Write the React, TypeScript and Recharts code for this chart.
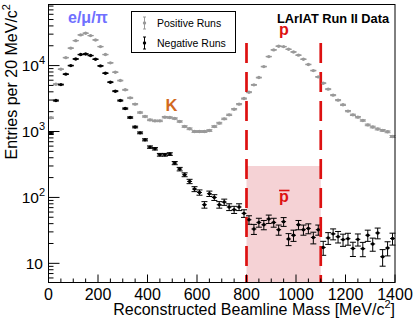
import React from 'react';
import { ComposedChart, Scatter, XAxis, YAxis, ErrorBar, ReferenceArea, ReferenceLine } from 'recharts';

const FONT = '"Liberation Sans", Arial, Helvetica, sans-serif';
const BIN_WIDTH = 20;

// Positive runs (grey), entries per 20 MeV bin, bins 0..1400
const positiveRuns = [
  1615, 5220, 8820, 13200, 18400, 23900, 29200, 31000, 28500, 24500,
  19400, 14700, 11000, 7940, 5930, 4290, 3240, 2600, 1940, 1690,
  1500, 1450, 1450, 1650, 1630, 1575, 1420, 1190, 1100, 1000,
  1000, 1000, 1035, 1190, 1340, 1555, 1790, 2180, 2600, 3160,
  3950, 5100, 6580, 9660, 13700, 17300, 19700, 19400, 17700, 16100,
  14400, 12500, 10400, 8400, 6740, 5410, 4390, 3560, 2990, 2540,
  2040, 1790, 1650, 1470, 1260, 1170, 1090, 1040, 990, 840,
];

// Negative runs (black)
const negativeRuns = [
  946, 2950, 5150, 7410, 10000, 12600, 14700, 15000, 14200, 12500,
  9890, 7670, 5600, 4090, 2950, 2230, 1630, 1170, 955, 748,
  580, 547, 444, 444, 455, 332, 269, 221, 175, 134,
  119, 77.5, 114, 100, 77.5, 85, 71.6, 65.2, 71.6, 57.3,
  45.9, 33.2, 41.8, 38.5, 47.1, 41.8, 32.4, 42.9, 23.4, 26.7,
  38.5, 32.4, 33.9, 24.7, 32.4, 17.4, 24.3, 28, 25.4, 22.9,
  23.7, 16.8, 23.1, 16.7, 26.7, 19.7, 28.9, 12.6, 17.1, 23.8,
];

const X_TICKS = [
  0, 50, 100, 150, 200, 250, 300, 350, 400, 450, 500, 550, 600, 650, 700,
  750, 800, 850, 900, 950, 1000, 1050, 1100, 1150, 1200, 1250, 1300, 1350, 1400,
];
const X_LABELED = [0, 200, 400, 600, 800, 1000, 1200, 1400];
const Y_TICKS = [
  6, 7, 8, 9,
  10, 20, 30, 40, 50, 60, 70, 80, 90,
  100, 200, 300, 400, 500, 600, 700, 800, 900,
  1000, 2000, 3000, 4000, 5000, 6000, 7000, 8000, 9000,
  10000, 20000, 30000, 40000, 50000, 60000, 70000, 80000,
];
const Y_LABELED = [10, 100, 1000, 10000];

const X_DOMAIN = [0, 1400];
const Y_DOMAIN = [5.12, 84500];
const PBAR_WINDOW = [800, 1100];
const PBAR_BOX_TOP = 300;
const CUT_LINE_TOP = 22000;

const makeSeries = (vals: number[]) =>
  vals.map((v, i) => ({
    x: BIN_WIDTH * i + BIN_WIDTH / 2,
    y: v,
    ey: Math.sqrt(v),
    ex: BIN_WIDTH / 2,
  }));

const posData = makeSeries(positiveRuns);
const negData = makeSeries(negativeRuns);

const TICK_MARGIN = 4;

const XTick = (props: any) => {
  const { x, y, payload } = props;
  const axisY = y - TICK_MARGIN;
  const v = payload.value;
  const major = X_LABELED.includes(v);
  return (
    <g>
      <line x1={x} x2={x} y1={axisY} y2={axisY - (major ? 8 : 4)} stroke="#000" strokeWidth={1} />
      {major && (
        <text x={x} y={axisY + 17} textAnchor="middle" fontSize={16} fontFamily={FONT} fill="#000">
          {v}
        </text>
      )}
    </g>
  );
};

const YTick = (props: any) => {
  const { x, y, payload } = props;
  const axisX = x + TICK_MARGIN;
  const v = payload.value;
  const major = Y_LABELED.includes(v);
  const exp = Math.round(Math.log10(v));
  return (
    <g>
      <line x1={axisX} x2={axisX + (major ? 11 : 5)} y1={y} y2={y} stroke="#000" strokeWidth={1} />
      {major && v === 10 && (
        <text x={axisX - 5.5} y={y + 5.5} textAnchor="end" fontSize={15.5} fontFamily={FONT} fill="#000">
          10
        </text>
      )}
      {major && v !== 10 && (
        <text x={axisX - 3.5} y={y + 5.5} textAnchor="end" fontSize={15.5} fontFamily={FONT} fill="#000">
          10
          <tspan fontSize={11} dy={-7}>{exp}</tspan>
        </text>
      )}
    </g>
  );
};

const greyDot = (p: any) => <circle cx={p.cx} cy={p.cy} r={1.7} fill="#999999" />;
const blackDot = (p: any) => <circle cx={p.cx} cy={p.cy} r={1.7} fill="#000000" />;

export default function App() {
  return (
    <div style={{ position: 'absolute', left: 0, top: 0, width: 415, height: 318, background: '#fff' }}>
      <ComposedChart
        width={415}
        height={318}
        margin={{ top: 4.5, right: 20, bottom: 0, left: 0 }}
      >
        <XAxis
          type="number"
          dataKey="x"
          domain={X_DOMAIN}
          ticks={X_TICKS}
          interval={0}
          allowDataOverflow
          axisLine={false}
          tickLine={false}
          tickSize={0}
          tickMargin={TICK_MARGIN}
          height={35.5}
          tick={<XTick />}
        />
        <YAxis
          type="number"
          dataKey="y"
          scale="log"
          domain={Y_DOMAIN}
          ticks={Y_TICKS}
          interval={0}
          allowDataOverflow
          axisLine={false}
          tickLine={false}
          tickSize={0}
          tickMargin={TICK_MARGIN}
          width={48.5}
          tick={<YTick />}
        />
        <ReferenceArea
          x1={PBAR_WINDOW[0]}
          x2={PBAR_WINDOW[1]}
          y1={Y_DOMAIN[0]}
          y2={PBAR_BOX_TOP}
          fill="#f5d2d5"
          fillOpacity={1}
          stroke="none"
          ifOverflow="visible"
        />
        <Scatter data={posData} isAnimationActive={false} shape={greyDot}>
          <ErrorBar dataKey="ey" direction="y" width={3} stroke="#999999" strokeWidth={1} isAnimationActive={false} />
          <ErrorBar dataKey="ex" direction="x" width={0} stroke="#999999" strokeWidth={1} isAnimationActive={false} />
        </Scatter>
        <Scatter data={negData} isAnimationActive={false} shape={blackDot}>
          <ErrorBar dataKey="ey" direction="y" width={3} stroke="#000" strokeWidth={1} isAnimationActive={false} />
          <ErrorBar dataKey="ex" direction="x" width={0} stroke="#000" strokeWidth={1} isAnimationActive={false} />
        </Scatter>
        <ReferenceLine
          segment={[{ x: PBAR_WINDOW[0], y: CUT_LINE_TOP }, { x: PBAR_WINDOW[0], y: Y_DOMAIN[0] }]}
          stroke="#dd1111"
          strokeWidth={2.7}
          strokeDasharray="20 9"
          ifOverflow="visible"
        />
        <ReferenceLine
          segment={[{ x: PBAR_WINDOW[1], y: CUT_LINE_TOP }, { x: PBAR_WINDOW[1], y: Y_DOMAIN[0] }]}
          stroke="#dd1111"
          strokeWidth={2.7}
          strokeDasharray="20 9"
          ifOverflow="visible"
        />
      </ComposedChart>
      <svg
        width={415}
        height={318}
        style={{ position: 'absolute', left: 0, top: 0, pointerEvents: 'none' }}
        fontFamily={FONT}
      >
        {/* frame */}
        <rect x={48.5} y={4.5} width={346.5} height={278} fill="none" stroke="#000" strokeWidth={1} />
        {/* legend */}
        <rect x={131.5} y={11.5} width={104} height={41} fill="#fff" stroke="#000" strokeWidth={1} />
        <line x1={144.5} x2={144.5} y1={17} y2={29} stroke="#999" strokeWidth={1} />
        <line x1={143} x2={146} y1={17} y2={17} stroke="#999" strokeWidth={1} />
        <line x1={143} x2={146} y1={29} y2={29} stroke="#999" strokeWidth={1} />
        <circle cx={144.5} cy={23} r={1.7} fill="#999" />
        <text x={157} y={27} fontSize={10.5} fill="#000">Positive Runs</text>
        <line x1={144.5} x2={144.5} y1={37} y2={49} stroke="#000" strokeWidth={1} />
        <line x1={143} x2={146} y1={37} y2={37} stroke="#000" strokeWidth={1} />
        <line x1={143} x2={146} y1={49} y2={49} stroke="#000" strokeWidth={1} />
        <circle cx={144.5} cy={43} r={1.7} fill="#000" />
        <text x={157} y={47} fontSize={10.5} fill="#000">Negative Runs</text>
        {/* title */}
        <text x={277} y={23} fontSize={12.8} fontWeight="bold" fill="#000">LArIAT Run II Data</text>
        {/* annotations */}
        <text x={68} y={23} fontSize={16} fontWeight="bold" fill="#7070ff">e/μ/π</text>
        <text x={165.5} y={111} fontSize={16.5} fontWeight="bold" fill="#d2691e">K</text>
        <text x={284} y={35} fontSize={16} fontWeight="bold" fill="#dd1111" textAnchor="middle">p</text>
        <text x={284} y={202} fontSize={16} fontWeight="bold" fill="#dd1111" textAnchor="middle">p</text>
        <line x1={279} x2={289.5} y1={190.5} y2={190.5} stroke="#dd1111" strokeWidth={1.6} />
        {/* axis titles */}
        <text x={395} y={314.5} fontSize={16} textAnchor="end" fill="#000">
          Reconstructed Beamline Mass [MeV/c
          <tspan fontSize={11} dy={-7}>2</tspan>
          <tspan dy={7}>]</tspan>
        </text>
        <text
          transform="translate(16.5,4) rotate(-90)"
          x={0}
          y={0}
          fontSize={16}
          textAnchor="end"
          fill="#000"
        >
          Entries per 20 MeV/c
          <tspan fontSize={11} dy={-7}>2</tspan>
        </text>
      </svg>
    </div>
  );
}
